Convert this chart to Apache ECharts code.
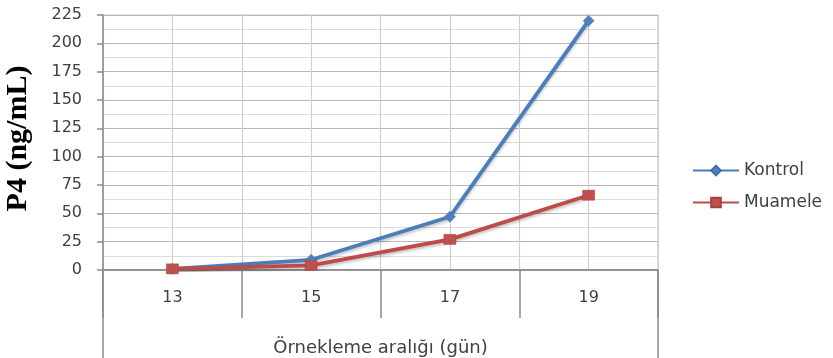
<!DOCTYPE html>
<html>
<head>
<meta charset="utf-8">
<script src="https://cdn.jsdelivr.net/npm/echarts@6/dist/echarts.min.js"></script>
<style>
  html, body { margin: 0; padding: 0; background: #fff; }
  #chart { width: 833px; height: 358px; }
</style>
</head>
<body>
<div id="chart"></div>
<script>
// Sampling days and P4 concentrations (ng/mL)
const days = ['13', '15', '17', '19'];
const kontrol = [1, 9, 47, 220];
const muamele = [1, 4, 27, 66];
const seriesNames = ['Kontrol', 'Muamele'];
const yTicks = { min: 0, max: 225, step: 25 };

const textColor = '#404040';
const axisGray = '#8a8a8a';
const labelFont = 'DejaVu Sans';

const chart = echarts.init(document.getElementById('chart'));
chart.setOption({
  animation: false,
  backgroundColor: '#ffffff',
  legend: {
    orient: 'vertical',
    left: 687,
    top: 157,
    itemWidth: 46,
    itemHeight: 12,
    itemGap: 15,
    textStyle: { color: textColor, fontFamily: labelFont, fontSize: 17 },
    data: seriesNames
  },
  grid: [
    { left: 103, right: 175, top: 15, bottom: 88, outerBoundsMode: 'none', containLabel: false,
      show: true, borderColor: '#c4c4c4', borderWidth: 1 },
    // frame continuing below the category axis
    { left: 103, right: 175, top: 270, bottom: -20, outerBoundsMode: 'none', containLabel: false,
      show: true, borderColor: axisGray, borderWidth: 1.5 }
  ],
  xAxis: [
    {
      type: 'category',
      gridIndex: 0,
      data: days,
      boundaryGap: true,
      name: 'Örnekleme aralığı (gün)',
      nameLocation: 'middle',
      nameGap: 69,
      nameTextStyle: { color: textColor, fontFamily: labelFont, fontSize: 18 },
      axisLine: { lineStyle: { color: axisGray, width: 1.5 } },
      axisTick: { show: true, interval: 0, length: 48, lineStyle: { color: axisGray, width: 1.5 } },
      axisLabel: { color: textColor, fontFamily: labelFont, fontSize: 16, margin: 20 },
      splitLine: { show: false }
    },
    // fine vertical grid at category centres and boundaries
    {
      type: 'value',
      gridIndex: 0,
      min: 0, max: days.length * 2, interval: 1,
      show: true,
      axisLine: { show: false }, axisTick: { show: false }, axisLabel: { show: false },
      splitLine: { show: true, lineStyle: { color: '#cfcfcf', width: 1.2 } }
    },
    { type: 'value', gridIndex: 1, show: false }
  ],
  yAxis: [
    {
      type: 'value',
      gridIndex: 0,
      min: yTicks.min,
      max: yTicks.max,
      interval: yTicks.step,
      name: 'P4 (ng/mL)',
      nameLocation: 'middle',
      nameRotate: 90,
      nameGap: 70,
      nameTextStyle: { color: '#000', fontFamily: 'Liberation Serif', fontWeight: 'bold', fontSize: 30, padding: [0, 0, 0, 8] },
      axisLine: { show: true, lineStyle: { color: axisGray, width: 1.5 } },
      axisTick: { show: true, length: 6, lineStyle: { color: axisGray, width: 1.5 } },
      axisLabel: { color: textColor, fontFamily: labelFont, fontSize: 16, margin: 21 },
      splitLine: { show: true, lineStyle: { color: '#b8b8b8', width: 1.2 } },
      minorTick: { show: false, splitNumber: 2 },
      minorSplitLine: { show: true, lineStyle: { color: '#dcdcdc', width: 1.2 } }
    },
    { type: 'value', gridIndex: 1, show: false }
  ],
  series: [
    {
      name: seriesNames[0],
      type: 'line',
      xAxisIndex: 0, yAxisIndex: 0,
      data: kontrol,
      symbol: 'diamond',
      symbolSize: 11,
      itemStyle: { color: '#4f81bd', borderColor: '#3f6fa8', borderWidth: 0.5 },
      lineStyle: { color: '#4a7ebb', width: 3.8, shadowColor: 'rgba(0,0,0,0.25)', shadowBlur: 3, shadowOffsetY: 2 },
      z: 3
    },
    {
      name: seriesNames[1],
      type: 'line',
      xAxisIndex: 0, yAxisIndex: 0,
      data: muamele,
      symbol: 'rect',
      symbolSize: [12, 10],
      itemStyle: { color: '#c0504d', borderColor: '#a33f3c', borderWidth: 0.5 },
      lineStyle: { color: '#be4b48', width: 3.8, shadowColor: 'rgba(0,0,0,0.25)', shadowBlur: 3, shadowOffsetY: 2 },
      z: 4
    }
  ]
});
</script>
</body>
</html>
